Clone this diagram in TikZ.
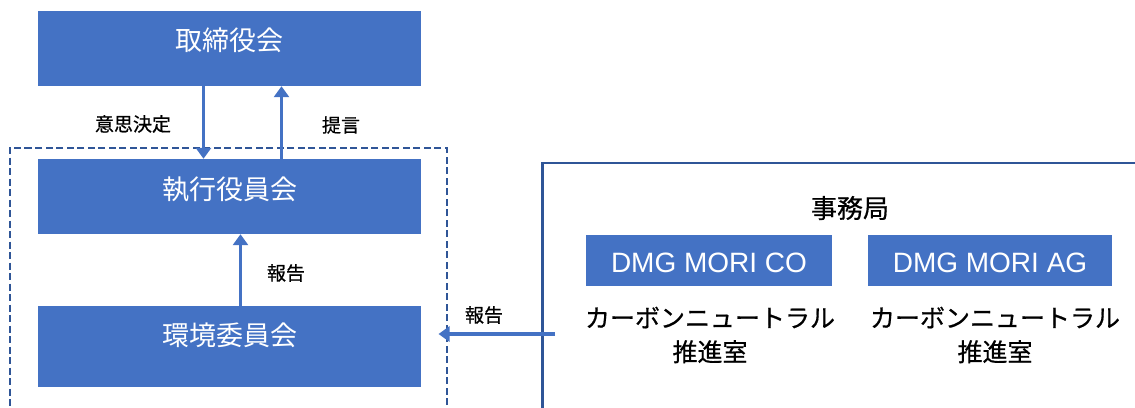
\documentclass[tikz,border=0pt]{standalone}
\usepackage{fontspec}
\setmainfont{Liberation Sans}
\newfontfamily\jp{Noto Sans CJK JP}
\newfontfamily\jpb[FakeBold=0.6]{Noto Sans CJK JP}
\usetikzlibrary{arrows.meta,calc}
\definecolor{boxblue}{HTML}{4472C4}
\definecolor{lineblue}{HTML}{2F5597}
\newcommand{\lift}[2]{\raisebox{#1}[\height][\depth]{#2}}
\begin{document}
\begin{tikzpicture}[x=1pt,y=-1pt,
  bluebox/.style={rectangle,fill=boxblue,inner sep=0pt,text=white},
  bigbox/.style={bluebox,minimum width=383pt,font=\jp\fontsize{27}{30}\selectfont},
  orgbox/.style={bluebox,minimum height=51pt,font=\fontsize{28}{30}\selectfont},
  arr/.style={draw=boxblue,line width=3.5pt,-{Triangle[width=15pt,length=11pt]}},
  lbl/.style={inner sep=0pt,font=\jpb\fontsize{19}{22}\selectfont},
  jtxt/.style={inner sep=0pt,align=center,font=\jpb\fontsize{25}{34}\selectfont}]
\useasboundingbox (0,0) rectangle (1135,407);
\clip (0,0) rectangle (1135,407);
% frames
\node[draw=lineblue,line width=2pt,dash pattern=on 7pt off 3.5pt,inner sep=0pt,
  minimum width=437pt,minimum height=282pt] (frame) at (228,289) {};
\node[draw=lineblue,line width=2.5pt,inner sep=0pt,
  minimum width=618pt,minimum height=270pt] (panel) at (851.5,298) {};
% left column
\node[bigbox,minimum height=75pt] (board) at (229.5,48.5) {\lift{8pt}{取締役会}};
\node[bigbox,minimum height=75pt] (exec) at (229.5,196.5) {\lift{7.5pt}{執行役員会}};
\node[bigbox,minimum height=81pt] (env) at (229.5,346.5) {\lift{11.5pt}{環境委員会}};
% right panel
\node[inner sep=0pt,font=\jpb\fontsize{26}{30}\selectfont] (office) at (850,208) {事務局};
\node[orgbox,minimum width=246pt] (co) at (709,260.5) {\lift{-2pt}{DMG MORI CO}};
\node[orgbox,minimum width=244pt] (ag) at (990,260.5) {\lift{-2pt}{DMG MORI AG}};
\node[jtxt] (cn1) at (710,335) {カーボンニュートラル\\推進室};
\node[jtxt] (cn2) at (995,335) {カーボンニュートラル\\推進室};
% arrows
\draw[arr] ([xshift=-26pt]board.south) -- ([xshift=-26pt]exec.north);
\draw[arr] ([xshift=52pt]exec.north) -- ([xshift=52pt]board.south);
\draw[arr] ([xshift=11pt]env.north) -- ([xshift=11pt]exec.south);
\coordinate (rs) at (555,334);
\draw[arr] (rs) -- ($(frame.east |- rs)+(-9,0)$);
% labels
\node[lbl] (l1) at (133,124) {意思決定};
\node[lbl] (l2) at (341,125) {提言};
\node[lbl] (l3) at (286,273) {報告};
\node[lbl] (l4) at (484,315) {報告};
\end{tikzpicture}
\end{document}
